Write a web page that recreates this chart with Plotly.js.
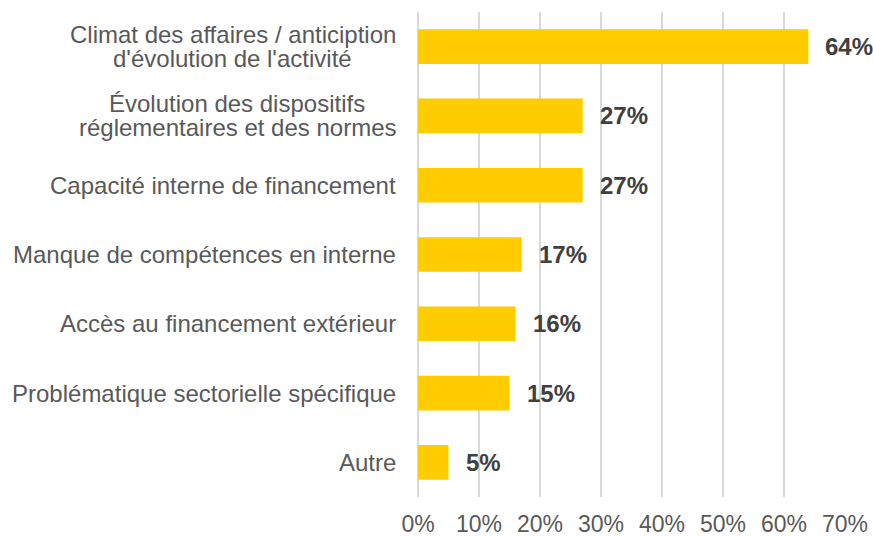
<!DOCTYPE html>
<html>
<head>
<meta charset="utf-8">
<script src="https://cdn.plot.ly/plotly-3.0.1.min.js"></script>
<style>
  html, body { margin: 0; padding: 0; background: #fff; }
  #chart { width: 873px; height: 536px; }
</style>
</head>
<body>
<div id="chart"></div>
<script>
// categories, top to bottom
const categories = [
  "Climat des affaires / anticiption<br>d'évolution de l'activité",
  "Évolution des dispositifs<br>réglementaires et des normes",
  "Capacité interne de financement",
  "Manque de compétences en interne",
  "Accès au financement extérieur",
  "Problématique sectorielle spécifique",
  "Autre"
];
const values = [64, 27, 27, 17, 16, 15, 5];
const xTicks = [0, 10, 20, 30, 40, 50, 60, 70];

const FONT = 'Liberation Sans, Arial, sans-serif';
const labelSize = 24;

// measure text so multi-line labels can be centred line by line
const ctx = document.createElement('canvas').getContext('2d');
ctx.font = labelSize + 'px "Liberation Sans", Arial';
function textW(s) { return ctx.measureText(s).width; }

let annotations = [];

categories.forEach((cat, i) => {
  let lines = cat.split('<br>');
  let maxW = Math.max.apply(null, lines.map(textW));
  lines.forEach((line, j) => {
    let yshift = lines.length > 1 ? (j === 0 ? 12.5 : -11.5) : 0;
    annotations.push({
      xref: 'paper', yref: 'y',
      x: 0, y: cat,
      text: line,
      showarrow: false,
      xanchor: 'center',
      xshift: -22 - maxW / 2,
      yshift: yshift,
      font: { family: FONT, size: labelSize, color: '#595959' }
    });
  });
});

// value labels
values.forEach((v, i) => {
  annotations.push({
    xref: 'x', yref: 'y',
    x: v, y: categories[i],
    text: '<b>' + v + '%</b>',
    showarrow: false,
    xanchor: 'left',
    xshift: 15,
    font: { family: FONT, size: 24, color: '#404040' }
  });
});

let trace = {
  type: 'bar',
  orientation: 'h',
  x: values,
  y: categories,
  marker: { color: '#FFCC00' },
  hoverinfo: 'skip'
};

let layout = {
  width: 873,
  height: 536,
  margin: { l: 418, r: 28, t: 12, b: 39 },
  paper_bgcolor: '#fff',
  plot_bgcolor: '#fff',
  showlegend: false,
  bargap: 0.5,
  xaxis: {
    range: [0, 70],
    tickvals: xTicks,
    ticktext: xTicks.map(t => t + '%'),
    showgrid: true,
    gridcolor: '#d9d9d9',
    gridwidth: 1.5,
    zeroline: true,
    zerolinecolor: '#d9d9d9',
    zerolinewidth: 1.5,
    showline: false,
    ticks: 'outside',
    ticklen: 6,
    tickcolor: 'rgba(0,0,0,0)',
    tickfont: { family: FONT, size: 23, color: '#595959' },
    fixedrange: true
  },
  yaxis: {
    type: 'category',
    autorange: 'reversed',
    showticklabels: false,
    showgrid: false,
    zeroline: false,
    fixedrange: true
  },
  annotations: annotations
};

Plotly.newPlot('chart', [trace], layout, { displayModeBar: false, staticPlot: true });
</script>
</body>
</html>
